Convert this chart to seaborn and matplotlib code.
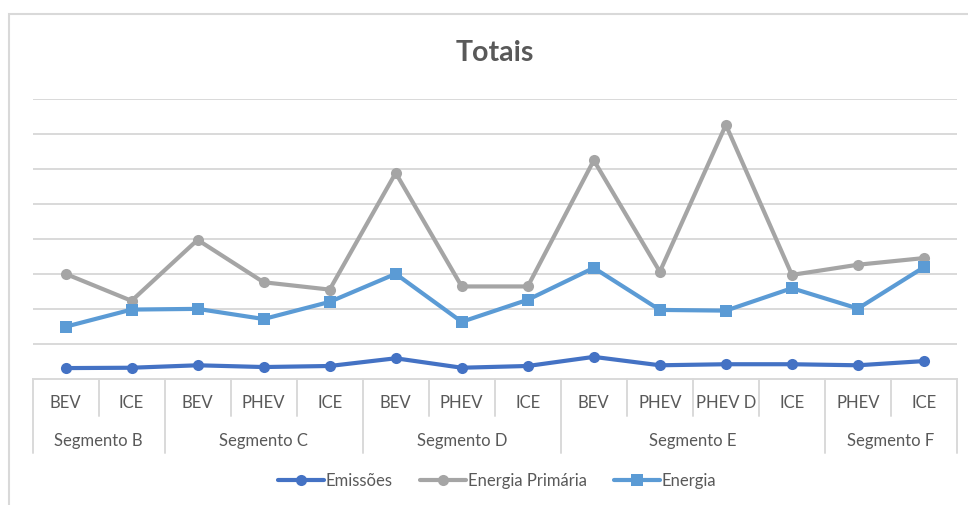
import numpy as np
import pandas as pd
import matplotlib
matplotlib.use("Agg")
import matplotlib.pyplot as plt
from matplotlib.patches import Rectangle
import seaborn as sns

# Categorias (dois níveis)
segmentos = ["Segmento B", "Segmento C", "Segmento D", "Segmento E", "Segmento F"]
tipos = [
    ["BEV", "ICE"],
    ["BEV", "PHEV", "ICE"],
    ["BEV", "PHEV", "ICE"],
    ["BEV", "PHEV", "PHEV D", "ICE"],
    ["PHEV", "ICE"],
]

# Valores
emissoes = [0.32, 0.33, 0.40, 0.35, 0.38, 0.60, 0.33, 0.38, 0.64, 0.40, 0.43, 0.43, 0.40, 0.52]
energia_primaria = [3.01, 2.24, 3.98, 2.77, 2.56, 5.89, 2.65, 2.65, 6.25, 3.07, 7.26, 2.98, 3.27, 3.46]
energia = [1.50, 1.99, 2.01, 1.72, 2.21, 3.01, 1.64, 2.27, 3.18, 1.98, 1.96, 2.60, 2.02, 3.20]

series = ["Emissões", "Energia Primária", "Energia"]
cores = {"Emissões": "#4472C4", "Energia Primária": "#A5A5A5", "Energia": "#5B9BD5"}
marcadores = {"Emissões": "o", "Energia Primária": "o", "Energia": "s"}

n = len(emissoes)
pos = np.arange(n)
df = pd.DataFrame({
    "pos": np.tile(pos, 3),
    "valor": emissoes + energia_primaria + energia,
    "serie": np.repeat(series, n),
})

sns.set_style("white")
plt.rcParams["font.family"] = ["Lato", "DejaVu Sans"]
texto = "#595959"
grelha = "#D9D9D9"

W, H = 968, 505
fig = plt.figure(figsize=(W / 100, H / 100), dpi=100)
ax_l, ax_r, ax_b, ax_t = 32.5, 957, 379.3, 99
ax = fig.add_axes([ax_l / W, (H - ax_b) / H, (ax_r - ax_l) / W, (ax_b - ax_t) / H])

sns.lineplot(data=df, x="pos", y="valor", hue="serie", style="serie",
             hue_order=series, style_order=series, palette=cores,
             markers=marcadores, dashes=False, linewidth=3, markersize=8,
             markeredgewidth=0, ax=ax)

ax.set_xlim(-0.5, n - 0.5)
ax.set_ylim(0, 8)
ax.set_yticks(np.arange(1, 9))
ax.yaxis.grid(True, color=grelha, linewidth=1.4)
ax.set_axisbelow(True)
for s in ["left", "right", "top"]:
    ax.spines[s].set_visible(False)
ax.spines["bottom"].set_color(grelha)
ax.spines["bottom"].set_linewidth(1.4)
ax.set_xticks([])
ax.set_yticklabels([])
ax.tick_params(left=False, bottom=False)
ax.set_xlabel("")
ax.set_ylabel("")

# Eixo de categorias em dois níveis
altura = ax_b - ax_t
y1 = -(415.7 - ax_b) / altura
y2 = -(453 - ax_b) / altura
ylab1 = -(403 - ax_b) / altura
ylab2 = -(441 - ax_b) / altura
trans = ax.get_xaxis_transform()
k = 0
limites = [-0.5]
for seg, ts in zip(segmentos, tipos):
    for t in ts:
        ax.text(k, ylab1, t, transform=trans, ha="center", va="center",
                fontsize=12, color=texto)
        if t != ts[-1]:
            ax.plot([k + 0.5, k + 0.5], [0, y1], transform=trans, color=grelha,
                    lw=1.4, clip_on=False)
        k += 1
    ax.text(k - len(ts) / 2 - 0.5, ylab2, seg, transform=trans, ha="center",
            va="center", fontsize=12, color=texto)
    limites.append(k - 0.5)
for x in limites:
    ax.plot([x, x], [0, y2], transform=trans, color=grelha, lw=1.4, clip_on=False)

fig.text(495 / W, 1 - 53 / H, "Totais", ha="center", va="center",
         fontsize=20.5, fontweight="bold", color=texto)

sns.move_legend(ax, "center", bbox_to_anchor=(497 / W, 1 - 481 / H),
                bbox_transform=fig.transFigure, ncol=3, title=None,
                frameon=False, fontsize=12, handlelength=2.8,
                handletextpad=0.1, columnspacing=1.6)
for t in ax.get_legend().get_texts():
    t.set_color(texto)

# Moldura do gráfico
fig.patches.append(Rectangle((9 / W, -0.1), 1.2, 1 - 14 / H + 0.1,
                             transform=fig.transFigure, fill=False,
                             edgecolor=grelha, linewidth=1.5))

fig.savefig("out.png", dpi=100)
